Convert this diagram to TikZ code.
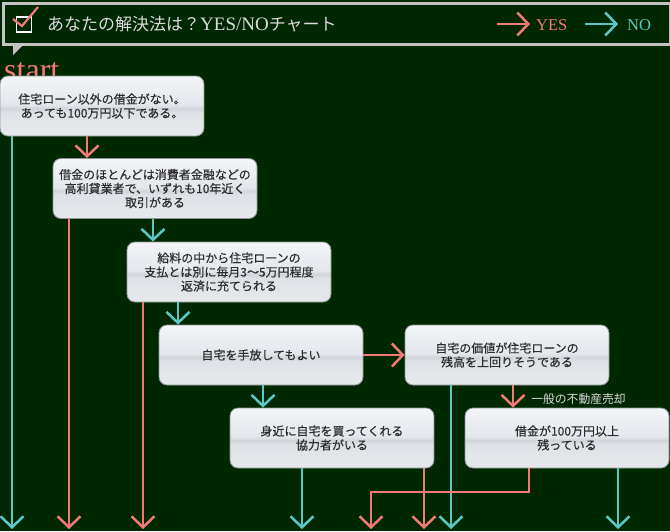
\documentclass[tikz,border=0pt]{standalone}
\usepackage{fontspec}
\setmainfont{Liberation Serif}
\newfontfamily\jp{Noto Sans CJK JP}
\newfontfamily\jpb[FakeBold=0.35]{Noto Sans CJK JP}
\usetikzlibrary{arrows.meta}
\definecolor{bg}{RGB}{0,40,0}
\definecolor{yescol}{RGB}{245,122,118}
\definecolor{nocol}{RGB}{90,200,200}
\definecolor{hdr}{RGB}{196,196,196}
\definecolor{titlecol}{RGB}{218,218,218}
\definecolor{boxtext}{RGB}{45,45,45}
\definecolor{boxborder}{RGB}{140,147,150}
\definecolor{bxA}{RGB}{230,233,236}
\definecolor{bxB}{RGB}{222,226,230}
\definecolor{bxC}{RGB}{208,213,218}
\definecolor{bxD}{RGB}{227,231,235}
\definecolor{bxE}{RGB}{243,245,248}
\pgfdeclareverticalshading{boxsh}{100bp}{color(0bp)=(bxA); color(25bp)=(bxA); color(45bp)=(bxB); color(48bp)=(bxC); color(51bp)=(bxD); color(75bp)=(bxE); color(100bp)=(bxE)}
\tikzset{
  qbox/.style={draw=boxborder, line width=0.8pt, rounded corners=8pt, shading=boxsh,
    minimum width=204pt, minimum height=60pt, inner sep=0pt, align=center,
    text=boxtext, font=\jpb\fontsize{12}{14}\selectfont},
  yesarr/.style={draw=yescol, line width=2.5pt, -{Straight Barb[length=11pt,width=23pt]}},
  noarr/.style={draw=nocol, line width=2.5pt, -{Straight Barb[length=11pt,width=23pt]}},
}
\begin{document}
\begin{tikzpicture}[x=1pt,y=-1pt]
\useasboundingbox (0,0) rectangle (670,531);
\fill[bg] (0,0) rectangle (670,531);
% header
\node[draw=hdr, line width=3pt, minimum width=667pt, minimum height=41pt, inner sep=0pt, anchor=north west] (header) at (1.5,1.5) {};
\fill[hdr] (13,43) -- (25,43) -- (13,55) -- cycle;
\node[draw=white, line width=1.8pt, minimum width=15pt, minimum height=15pt, inner sep=0pt] (chk) at (24,24.5) {};
\draw[yescol, line width=2.2pt] (13,19) -- (22,26) -- (38,7);
\node[anchor=west, inner sep=0pt, text=titlecol, font=\fontsize{17}{18}\selectfont] (title) at (47,24)
  {{\jp あなたの解決法は？}{\fontsize{19}{20}\selectfont YES/NO}{\jp チャート}};
\coordinate (ly0) at (497,24);
\coordinate (ly1) at (530,24);
\coordinate (ln0) at (585,24);
\coordinate (ln1) at (618,24);
\draw[yesarr] (ly0) -- (ly1);
\draw[noarr] (ln0) -- (ln1);
\node[anchor=west, inner sep=0pt, text=yescol, font=\fontsize{16.5}{18}\selectfont] (lyes) at (536,25) {YES};
\node[anchor=west, inner sep=0pt, text=nocol, font=\fontsize{16.5}{18}\selectfont] (lno) at (627,25) {NO};
\node[anchor=base west, inner sep=0pt, text=yescol, font=\fontsize{32}{33}\selectfont] (start) at (4,80) {start};
% boxes
\node[qbox] (b1) at (102,106) {住宅ローン以外の借金がない。\\あっても100万円以下である。};
\node[qbox] (b2) at (155,188.5) {借金のほとんどは消費者金融などの\\高利貸業者で、いずれも10年近く\\取引がある};
\node[qbox] (b3) at (229,272) {給料の中から住宅ローンの\\支払とは別に毎月3〜5万円程度\\返済に充てられる};
\node[qbox] (b4) at (261,355) {自宅を手放してもよい};
\node[qbox] (b5) at (507,355) {自宅の価値が住宅ローンの\\残高を上回りそうである};
\node[qbox] (b6) at (332,438) {身近に自宅を買ってくれる\\協力者がいる};
\node[qbox] (b7) at (567,438) {借金が100万円以上\\残っている};
% columns
\coordinate (bot) at (0,529);
\coordinate (j) at (0,492);
\foreach \x in {12,69,87,143,153,178,263,302,371,424,451,513,529,618} {\coordinate (x\x) at (\x,0);}
% connectors
\draw[noarr] (b1.south -| x12) -- (bot -| x12);
\draw[yesarr] (b1.south -| x87) -- (b2.north -| x87);
\draw[yesarr] (b2.south -| x69) -- (bot -| x69);
\draw[noarr] (b2.south -| x153) -- (b3.north -| x153);
\draw[yesarr] (b3.south -| x143) -- (bot -| x143);
\draw[noarr] (b3.south -| x178) -- (b4.north -| x178);
\draw[yesarr] (b4.east) -- (b5.west);
\draw[noarr] (b4.south -| x263) -- (b6.north -| x263);
\draw[noarr] (b6.south -| x302) -- (bot -| x302);
\draw[yesarr] (b6.south -| x424) -- (bot -| x424);
\draw[noarr] (b5.south -| x451) -- (bot -| x451);
\draw[yesarr] (b5.south -| x513) -- (b7.north -| x513);
\node[inner sep=0pt, text=titlecol, font=\jp\fontsize{11.8}{14}\selectfont] (lbl) at (578.5,399) {一般の不動産売却};
\draw[yesarr] (b7.south -| x529) |- (x371 |- j) -- (bot -| x371);
\draw[noarr] (b7.south -| x618) -- (bot -| x618);
\end{tikzpicture}
\end{document}
